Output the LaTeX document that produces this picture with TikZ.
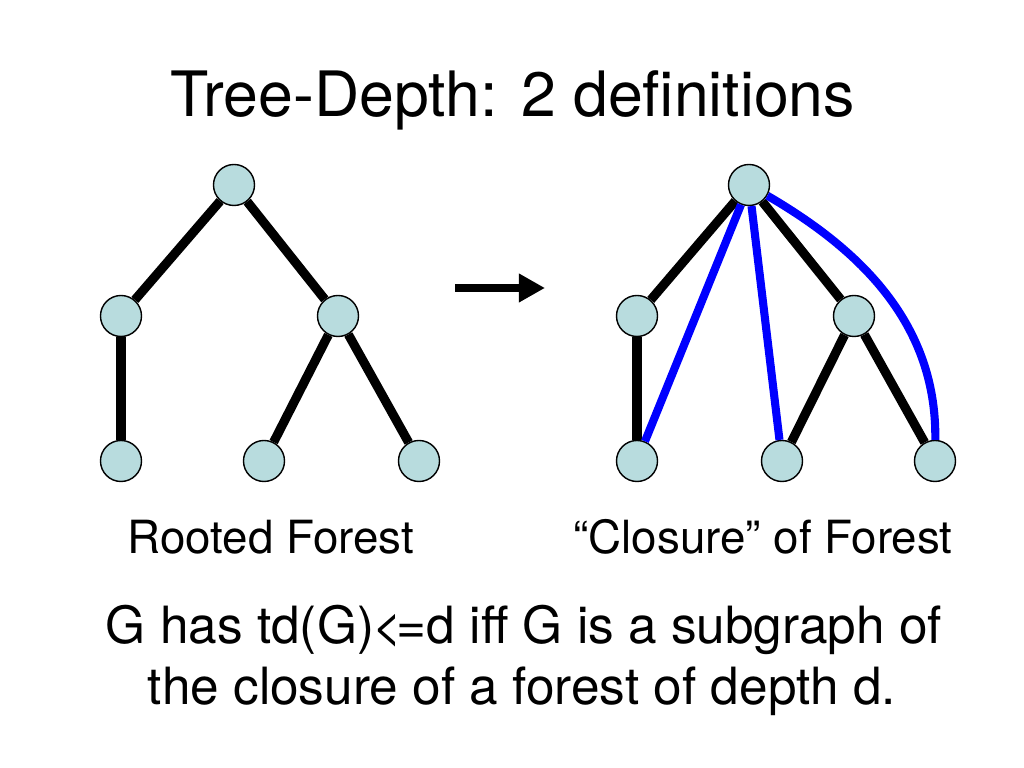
\documentclass[tikz,border=0pt]{standalone}
\usepackage{fontspec}
\setmainfont{TeX Gyre Heros}
\usetikzlibrary{arrows.meta,calc}
\definecolor{nodeblue}{RGB}{184,220,222}
\tikzstyle{vert} = [circle, draw=black, thin, fill=nodeblue, minimum size=0.41cm, inner sep=0pt]
\tikzstyle{edge} = [black, line width=2.6pt]
\tikzstyle{cedge} = [blue, line width=2.3pt]
\tikzstyle{arrow} = [line width=2pt, -{Triangle[length=0.26cm, width=0.27cm]}]
\tikzstyle{txt} = [anchor=base, inner sep=0pt]

\begin{document}
\begin{tikzpicture}[x=0.01cm, y=-0.01cm]
\useasboundingbox (0,0) rectangle (1024,768);
\node[txt] (t) at (513,117) {\fontsize{17.8}{21}\selectfont Tree-Depth: 2 definitions};
\node[vert] (a0) at (234,185) {};
\node[vert] (a1) at (121,316) {};
\node[vert] (a2) at (338,316) {};
\node[vert] (a3) at (121,461) {};
\node[vert] (a4) at (264,461) {};
\node[vert] (a5) at (419,461) {};
\draw[edge] (a0)--(a1);
\draw[edge] (a0)--(a2);
\draw[edge] (a1)--(a3);
\draw[edge] (a2)--(a4);
\draw[edge] (a2)--(a5);
\node[vert] (b0) at (749,185) {};
\node[vert] (b1) at (637,316) {};
\node[vert] (b2) at (854,316) {};
\node[vert] (b3) at (637,461) {};
\node[vert] (b4) at (782,461) {};
\node[vert] (b5) at (935,461) {};
\draw[edge] (b0)--(b1);
\draw[edge] (b0)--(b2);
\draw[edge] (b1)--(b3);
\draw[edge] (b2)--(b4);
\draw[edge] (b2)--(b5);
\draw[cedge] (b0)--(b3);
\draw[cedge] (b0)--(b4);
\draw[cedge] (b0) .. controls (852,245) and (937,318) .. (b5);
\coordinate (p1) at (455,288);
\coordinate (p2) at (545,288);
\draw[arrow] (p1)--(p2);
\node[txt] (l1) at (271,554) {\fontsize{13}{15}\selectfont Rooted Forest};
\node[txt] (l2) at (763,554) {\fontsize{13}{15}\selectfont “Closure” of Forest};
\node[txt] (s1) at (524,644) {\fontsize{14.6}{17}\selectfont G has td(G)\kern-0.04em<\kern-0.1em=d iff G is a subgraph of};
\node[txt] (s2) at (522,705) {\fontsize{14.6}{17}\selectfont the closure of a forest of depth d.};
\end{tikzpicture}
\end{document}
